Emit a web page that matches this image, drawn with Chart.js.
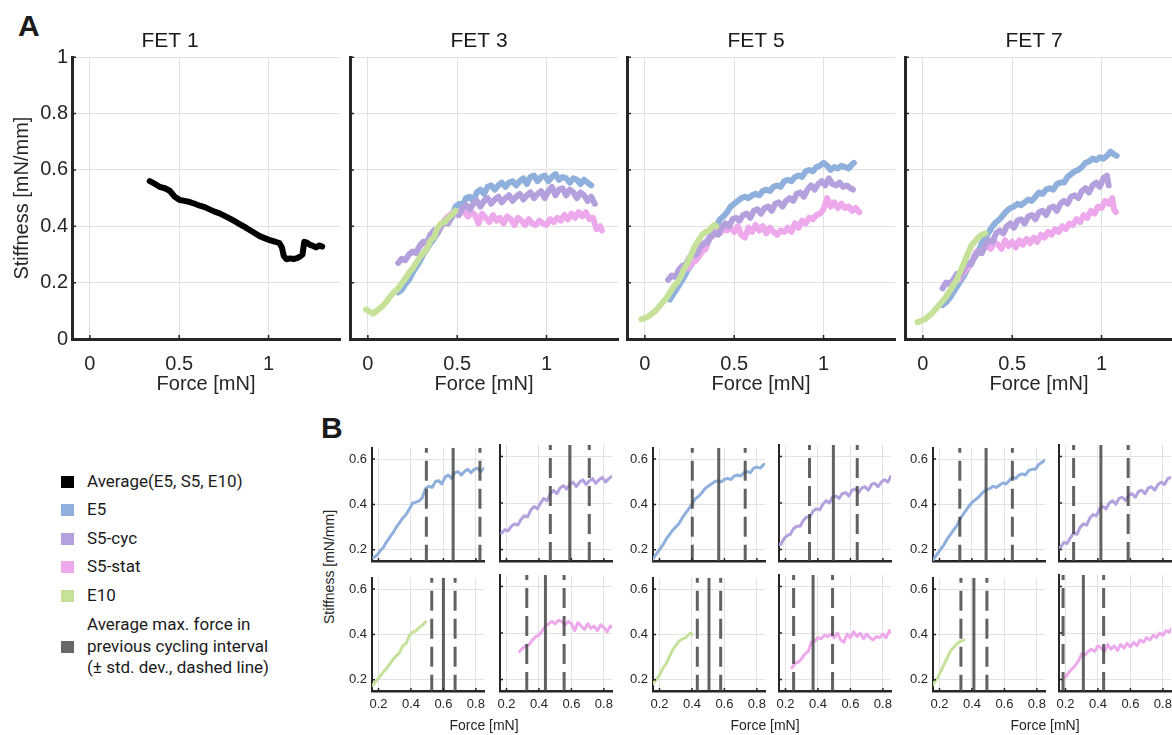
<!DOCTYPE html>
<html>
<head>
<meta charset="utf-8">
<script src="https://cdn.jsdelivr.net/npm/chart.js@4"></script>
<style>
html, body { margin: 0; padding: 0; background: #fff; overflow: hidden; width: 1172px; height: 735px; }
canvas { position: absolute; }
.t { position: absolute; white-space: nowrap; color: #1a1a1a; font-family: 'Liberation Sans', Arial, sans-serif; }
.lg { position: absolute; white-space: nowrap; color: #1a1a1a; font-family: Roboto, 'Noto Sans', sans-serif; font-size: 17px; line-height: 21.7px; }
.sq { position: absolute; width: 13px; height: 12px; }
</style>
</head>
<body>
<div class="t" style="left:18px;top:11px;font-weight:bold;font-size:30px;line-height:30px">A</div>
<div class="t" style="left:321px;top:413px;font-weight:bold;font-size:30px;line-height:30px">B</div>
<script>
// tick labels and axis ranges
var aForceTicks = [0, 0.5, 1];
var aStiffTicks = [0, 0.2, 0.4, 0.6, 0.8, 1];
var bForceTicks = [0.2, 0.4, 0.6, 0.8];
var bStiffTicks = [0.2, 0.4, 0.6];
var aRangeX = [-0.1, 1.4], aRangeY = [0, 1];
var bRangeX = [0.16, 0.85], bRangeY = [0.15, 0.65];

var fetTitles = ['FET 1', 'FET 3', 'FET 5', 'FET 7'];
var legendLabels = ['Average(E5, S5, E10)', 'E5', 'S5-cyc', 'S5-stat', 'E10',
  'Average max. force in<br>previous cycling interval<br>(± std. dev., dashed line)'];

// [force, stiffness]
var fet1Average = [[0.335,0.56],[0.36,0.552],[0.39,0.54],[0.42,0.535],[0.447,0.526],[0.475,0.505],[0.503,0.493],[0.53,0.49],[0.559,0.486],[0.587,0.48],[0.615,0.473],[0.643,0.468],[0.67,0.46],[0.698,0.452],[0.726,0.446],[0.754,0.437],[0.782,0.428],[0.81,0.418],[0.838,0.408],[0.866,0.398],[0.894,0.387],[0.922,0.376],[0.95,0.365],[0.978,0.358],[1.006,0.351],[1.034,0.346],[1.061,0.34],[1.075,0.325],[1.085,0.295],[1.1,0.283],[1.12,0.286],[1.14,0.284],[1.16,0.287],[1.175,0.292],[1.19,0.3],[1.2,0.345],[1.215,0.342],[1.23,0.335],[1.25,0.33],[1.266,0.325],[1.285,0.332],[1.3,0.328]];

var fet3E5 = [[0.17,0.165],[0.19,0.175],[0.21,0.195],[0.23,0.21],[0.25,0.235],[0.27,0.255],[0.29,0.275],[0.31,0.3],[0.33,0.32],[0.35,0.34],[0.37,0.355],[0.39,0.38],[0.41,0.405],[0.43,0.41],[0.45,0.415],[0.47,0.43],[0.49,0.47],[0.51,0.48],[0.53,0.475],[0.55,0.5],[0.57,0.505],[0.59,0.49],[0.61,0.52],[0.63,0.53],[0.65,0.515],[0.67,0.54],[0.69,0.545],[0.71,0.53],[0.73,0.545],[0.75,0.555],[0.77,0.54],[0.79,0.555],[0.81,0.56],[0.83,0.545],[0.85,0.56],[0.87,0.57],[0.89,0.55],[0.91,0.575],[0.93,0.58],[0.95,0.56],[0.97,0.575],[0.99,0.58],[1.01,0.56],[1.03,0.575],[1.05,0.585],[1.07,0.565],[1.09,0.575],[1.11,0.57],[1.13,0.555],[1.15,0.57],[1.17,0.565],[1.19,0.55],[1.21,0.565],[1.23,0.555],[1.25,0.545]];
var fet3S5cyc = [[0.17,0.27],[0.19,0.285],[0.21,0.28],[0.23,0.3],[0.25,0.31],[0.27,0.305],[0.29,0.33],[0.31,0.345],[0.33,0.34],[0.35,0.37],[0.37,0.385],[0.39,0.375],[0.41,0.4],[0.43,0.42],[0.45,0.41],[0.47,0.44],[0.49,0.455],[0.51,0.44],[0.53,0.465],[0.55,0.475],[0.57,0.46],[0.59,0.48],[0.61,0.49],[0.63,0.47],[0.65,0.49],[0.67,0.5],[0.69,0.48],[0.71,0.495],[0.73,0.505],[0.75,0.485],[0.77,0.5],[0.79,0.51],[0.81,0.49],[0.83,0.505],[0.85,0.515],[0.87,0.495],[0.89,0.51],[0.91,0.52],[0.93,0.5],[0.95,0.515],[0.97,0.525],[0.99,0.5],[1.01,0.525],[1.03,0.54],[1.05,0.51],[1.07,0.53],[1.09,0.535],[1.11,0.51],[1.13,0.53],[1.15,0.52],[1.17,0.5],[1.19,0.52],[1.21,0.51],[1.23,0.49],[1.25,0.505],[1.27,0.48]];
var fet3S5stat = [[0.28,0.32],[0.3,0.335],[0.32,0.345],[0.34,0.35],[0.36,0.37],[0.38,0.385],[0.4,0.39],[0.42,0.41],[0.44,0.43],[0.46,0.44],[0.48,0.45],[0.5,0.44],[0.52,0.455],[0.54,0.45],[0.56,0.435],[0.58,0.45],[0.6,0.44],[0.62,0.41],[0.64,0.445],[0.66,0.43],[0.68,0.415],[0.7,0.44],[0.72,0.42],[0.74,0.43],[0.76,0.41],[0.78,0.435],[0.8,0.425],[0.82,0.405],[0.84,0.43],[0.86,0.42],[0.88,0.405],[0.9,0.425],[0.92,0.41],[0.94,0.405],[0.96,0.42],[0.98,0.41],[1.0,0.405],[1.02,0.425],[1.04,0.415],[1.06,0.43],[1.08,0.42],[1.1,0.44],[1.12,0.425],[1.14,0.445],[1.16,0.43],[1.18,0.45],[1.2,0.435],[1.22,0.45],[1.24,0.425],[1.26,0.43],[1.28,0.39],[1.3,0.4],[1.31,0.385]];
var fet3E10 = [[-0.01,0.105],[0.01,0.097],[0.03,0.09],[0.05,0.1],[0.07,0.11],[0.09,0.122],[0.11,0.138],[0.13,0.155],[0.15,0.168],[0.17,0.18],[0.19,0.198],[0.21,0.215],[0.23,0.235],[0.25,0.25],[0.27,0.27],[0.29,0.29],[0.31,0.305],[0.33,0.32],[0.35,0.35],[0.37,0.36],[0.39,0.395],[0.41,0.41],[0.43,0.415],[0.45,0.43],[0.47,0.44],[0.49,0.455]];

var fet5E5 = [[0.14,0.14],[0.16,0.16],[0.18,0.18],[0.2,0.2],[0.22,0.22],[0.24,0.245],[0.26,0.265],[0.28,0.285],[0.3,0.3],[0.32,0.315],[0.34,0.34],[0.36,0.36],[0.38,0.38],[0.4,0.4],[0.42,0.425],[0.44,0.435],[0.46,0.45],[0.48,0.47],[0.5,0.48],[0.52,0.49],[0.54,0.5],[0.56,0.505],[0.58,0.5],[0.6,0.51],[0.62,0.515],[0.64,0.51],[0.66,0.525],[0.68,0.53],[0.7,0.525],[0.72,0.54],[0.74,0.545],[0.76,0.54],[0.78,0.56],[0.8,0.565],[0.82,0.56],[0.84,0.575],[0.86,0.58],[0.88,0.575],[0.9,0.595],[0.92,0.6],[0.94,0.595],[0.96,0.61],[0.98,0.615],[1.0,0.625],[1.02,0.615],[1.04,0.6],[1.06,0.61],[1.08,0.605],[1.1,0.615],[1.12,0.61],[1.14,0.605],[1.16,0.62],[1.17,0.625]];
var fet5S5cyc = [[0.13,0.21],[0.15,0.225],[0.17,0.22],[0.19,0.245],[0.21,0.26],[0.23,0.265],[0.25,0.29],[0.27,0.3],[0.29,0.3],[0.31,0.325],[0.33,0.34],[0.35,0.34],[0.37,0.365],[0.39,0.375],[0.41,0.37],[0.43,0.395],[0.45,0.41],[0.47,0.4],[0.49,0.425],[0.51,0.43],[0.53,0.42],[0.55,0.44],[0.57,0.445],[0.59,0.43],[0.61,0.455],[0.63,0.46],[0.65,0.445],[0.67,0.465],[0.69,0.47],[0.71,0.455],[0.73,0.48],[0.75,0.485],[0.77,0.47],[0.79,0.49],[0.81,0.5],[0.83,0.49],[0.85,0.515],[0.87,0.52],[0.89,0.505],[0.91,0.53],[0.93,0.545],[0.95,0.53],[0.97,0.55],[0.99,0.56],[1.01,0.545],[1.03,0.57],[1.05,0.55],[1.07,0.545],[1.09,0.555],[1.11,0.54],[1.13,0.545],[1.15,0.535],[1.165,0.53]];
var fet5S5stat = [[0.24,0.25],[0.26,0.27],[0.28,0.275],[0.3,0.29],[0.32,0.31],[0.34,0.32],[0.36,0.36],[0.38,0.365],[0.4,0.38],[0.42,0.375],[0.44,0.39],[0.46,0.385],[0.48,0.395],[0.5,0.38],[0.52,0.4],[0.54,0.37],[0.56,0.36],[0.58,0.395],[0.6,0.38],[0.62,0.405],[0.64,0.385],[0.66,0.4],[0.68,0.375],[0.7,0.395],[0.72,0.38],[0.74,0.37],[0.76,0.385],[0.78,0.38],[0.8,0.395],[0.82,0.38],[0.84,0.41],[0.86,0.395],[0.88,0.42],[0.9,0.41],[0.92,0.43],[0.94,0.425],[0.96,0.44],[0.98,0.445],[1.0,0.46],[1.02,0.5],[1.04,0.47],[1.06,0.485],[1.08,0.465],[1.1,0.48],[1.12,0.465],[1.14,0.47],[1.16,0.455],[1.18,0.465],[1.2,0.45]];
var fet5E10 = [[-0.02,0.07],[0.0,0.075],[0.02,0.08],[0.04,0.09],[0.06,0.1],[0.08,0.115],[0.1,0.13],[0.12,0.145],[0.14,0.165],[0.16,0.185],[0.18,0.2],[0.2,0.22],[0.22,0.25],[0.24,0.27],[0.26,0.3],[0.28,0.33],[0.3,0.35],[0.32,0.37],[0.34,0.38],[0.36,0.385],[0.38,0.4],[0.39,0.405],[0.4,0.4]];

var fet7E5 = [[0.11,0.12],[0.13,0.13],[0.15,0.145],[0.17,0.165],[0.19,0.185],[0.21,0.205],[0.23,0.225],[0.25,0.25],[0.27,0.27],[0.29,0.29],[0.31,0.31],[0.33,0.34],[0.35,0.36],[0.37,0.38],[0.39,0.4],[0.41,0.415],[0.43,0.425],[0.45,0.44],[0.47,0.455],[0.49,0.465],[0.51,0.47],[0.53,0.48],[0.55,0.475],[0.57,0.485],[0.59,0.495],[0.61,0.49],[0.63,0.505],[0.65,0.52],[0.67,0.515],[0.69,0.53],[0.71,0.535],[0.73,0.53],[0.75,0.55],[0.77,0.555],[0.79,0.555],[0.81,0.575],[0.83,0.585],[0.85,0.595],[0.87,0.6],[0.89,0.61],[0.91,0.625],[0.93,0.63],[0.95,0.64],[0.97,0.635],[0.99,0.645],[1.01,0.64],[1.03,0.65],[1.05,0.665],[1.07,0.655],[1.085,0.65]];
var fet7S5cyc = [[0.11,0.18],[0.13,0.2],[0.15,0.195],[0.17,0.21],[0.19,0.23],[0.21,0.225],[0.23,0.25],[0.25,0.27],[0.27,0.265],[0.29,0.295],[0.31,0.31],[0.33,0.305],[0.35,0.335],[0.37,0.35],[0.39,0.345],[0.41,0.375],[0.43,0.385],[0.45,0.375],[0.47,0.4],[0.49,0.41],[0.51,0.395],[0.53,0.42],[0.55,0.425],[0.57,0.41],[0.59,0.435],[0.61,0.44],[0.63,0.425],[0.65,0.45],[0.67,0.455],[0.69,0.44],[0.71,0.465],[0.73,0.47],[0.75,0.455],[0.77,0.48],[0.79,0.49],[0.81,0.48],[0.83,0.505],[0.85,0.51],[0.87,0.5],[0.89,0.525],[0.91,0.535],[0.93,0.52],[0.95,0.545],[0.97,0.555],[0.99,0.54],[1.01,0.57],[1.03,0.58],[1.04,0.545]];
var fet7S5stat = [[0.2,0.21],[0.22,0.23],[0.24,0.245],[0.26,0.26],[0.28,0.28],[0.3,0.31],[0.32,0.305],[0.34,0.32],[0.36,0.33],[0.38,0.32],[0.4,0.345],[0.42,0.335],[0.44,0.32],[0.46,0.35],[0.48,0.33],[0.5,0.345],[0.52,0.325],[0.54,0.35],[0.56,0.335],[0.58,0.355],[0.6,0.34],[0.62,0.36],[0.64,0.345],[0.66,0.37],[0.68,0.36],[0.7,0.38],[0.72,0.37],[0.74,0.39],[0.76,0.38],[0.78,0.4],[0.8,0.39],[0.82,0.41],[0.84,0.405],[0.86,0.425],[0.88,0.415],[0.9,0.44],[0.92,0.43],[0.94,0.455],[0.96,0.445],[0.98,0.47],[1.0,0.465],[1.02,0.49],[1.04,0.48],[1.06,0.5],[1.07,0.46],[1.08,0.45]];
var fet7E10 = [[-0.03,0.06],[-0.01,0.065],[0.01,0.07],[0.03,0.08],[0.05,0.09],[0.07,0.105],[0.09,0.12],[0.11,0.135],[0.13,0.15],[0.15,0.17],[0.17,0.19],[0.19,0.21],[0.21,0.24],[0.23,0.27],[0.25,0.3],[0.27,0.33],[0.29,0.345],[0.31,0.36],[0.33,0.37],[0.35,0.375]];

// average max. force of previous interval, order E5, S5-cyc, E10, S5-stat
var fet3MaxMean = [0.66, 0.59, 0.60, 0.44];
var fet3MaxSd = [0.165, 0.12, 0.072, 0.115];
var fet5MaxMean = [0.565, 0.495, 0.505, 0.37];
var fet5MaxSd = [0.163, 0.147, 0.072, 0.12];
var fet7MaxMean = [0.487, 0.418, 0.412, 0.31];
var fet7MaxSd = [0.162, 0.168, 0.08, 0.125];

var colE5 = '#8fb0dc', colS5cyc = '#b4a0dc', colS5stat = '#eea8ec', colE10 = '#c6e29a';
var colAvg = '#000000', colMax = '#666666';
var FONT = "'Liberation Sans', Arial, sans-serif";

// MATLAB-like inward tick marks
var inTicks = {
  id: 'inTicks',
  afterDatasetsDraw: function (chart, args, o) {
    var ctx = chart.ctx, a = chart.chartArea, x = chart.scales.x, y = chart.scales.y;
    ctx.save();
    ctx.strokeStyle = '#262626';
    ctx.lineWidth = o.w;
    ctx.beginPath();
    x.ticks.forEach(function (t) {
      var px = x.getPixelForValue(t.value);
      ctx.moveTo(px, a.bottom); ctx.lineTo(px, a.bottom - o.len);
    });
    y.ticks.forEach(function (t) {
      var py = y.getPixelForValue(t.value);
      ctx.moveTo(a.left, py); ctx.lineTo(a.left + o.len, py);
    });
    ctx.stroke();
    ctx.restore();
  }
};

function axis(range, ticks, show, fontSize, pad, border, size, title) {
  return {
    type: 'linear', min: range[0], max: range[1],
    afterBuildTicks: function (s) { s.ticks = ticks.map(function (v) { return { value: v }; }); },
    afterFit: function (s) { if (s.isHorizontal()) s.height = size; else s.width = size; },
    grid: { color: '#e2e2e2', lineWidth: 1, drawTicks: false },
    border: { display: true, color: '#262626', width: border },
    ticks: { display: show, padding: pad, color: '#262626', font: { family: FONT, size: fontSize },
      callback: function (v) { return String(v); } },
    title: title || { display: false }
  };
}

function series(pts, color, width) {
  return {
    data: pts.map(function (p) { return { x: p[0], y: p[1] }; }),
    showLine: true, borderColor: color, borderWidth: width, pointRadius: 0,
    borderJoinStyle: 'round', borderCapStyle: 'round', fill: false
  };
}

function vline(v, dashed) {
  return {
    data: [{ x: v, y: bRangeY[1] }, { x: v, y: bRangeY[0] }],
    showLine: true, borderColor: 'rgba(70,70,70,0.85)', borderWidth: 3, pointRadius: 0,
    borderDash: dashed ? [20, 8] : [], borderDashOffset: dashed ? 15 : 0
  };
}

function makeChart(left, top, w, h, datasets, xs, ys, pad, titleOpt, tickLen) {
  var cv = document.createElement('canvas');
  cv.width = w; cv.height = h;
  cv.style.left = left + 'px'; cv.style.top = top + 'px';
  cv.style.width = w + 'px'; cv.style.height = h + 'px';
  document.body.appendChild(cv);
  new Chart(cv, {
    type: 'scatter',
    data: { datasets: datasets },
    options: {
      responsive: false, animation: false, events: [],
      layout: { padding: pad },
      scales: { x: xs, y: ys },
      plugins: { legend: { display: false }, tooltip: { enabled: false }, title: titleOpt,
        inTicks: { len: tickLen, w: 1.5 } }
    },
    plugins: [inTicks]
  });
}

// ---------- panel A ----------
var aLeft = [72, 350, 627, 905];
var aSeries = [
  [series(fet1Average, colAvg, 6)],
  [series(fet3E10, colE10, 6), series(fet3S5cyc, colS5cyc, 6), series(fet3S5stat, colS5stat, 6), series(fet3E5, colE5, 6)],
  [series(fet5E10, colE10, 6), series(fet5S5cyc, colS5cyc, 6), series(fet5S5stat, colS5stat, 6), series(fet5E5, colE5, 6)],
  [series(fet7E10, colE10, 6), series(fet7S5cyc, colS5cyc, 6), series(fet7S5stat, colS5stat, 6), series(fet7E5, colE5, 6)]
];
for (var i = 0; i < 4; i++) {
  var yw = i === 0 ? 72 : 10;
  var xTitle = { display: true, text: 'Force [mN]', color: '#262626', font: { family: FONT, size: 20 }, padding: { top: 0, bottom: 4 } };
  var yTitle = i === 0 ? { display: true, text: 'Stiffness [mN/mm]', color: '#262626', font: { family: FONT, size: 20 }, padding: { top: 10, bottom: 0 } } : null;
  makeChart(aLeft[i] - yw, 0, yw + 268 + 6, 400, aSeries[i],
    axis(aRangeX, aForceTicks, true, 20, 13, 3, 61, xTitle),
    axis(aRangeY, aStiffTicks, i === 0, 20, 4, 3, yw, yTitle),
    { top: 0, right: 6, bottom: 0, left: 0 },
    { display: true, text: fetTitles[i], color: '#1a1a1a', font: { family: FONT, size: 21, weight: 'normal' }, padding: { top: 29, bottom: 3 } },
    4);
}

// ---------- panel B ----------
var bLeft = [[372, 500], [653, 779], [933, 1059]];
var bTop = [445, 575];
var bCurves = [
  [fet3E5, fet3S5cyc, fet3E10, fet3S5stat],
  [fet5E5, fet5S5cyc, fet5E10, fet5S5stat],
  [fet7E5, fet7S5cyc, fet7E10, fet7S5stat]
];
var bColors = [colE5, colS5cyc, colE10, colS5stat];
var bMean = [fet3MaxMean, fet5MaxMean, fet7MaxMean];
var bSd = [fet3MaxSd, fet5MaxSd, fet7MaxSd];
for (var g = 0; g < 3; g++) {
  for (var k = 0; k < 4; k++) {
    var row = k < 2 ? 0 : 1, col = k % 2;
    var m = bMean[g][k], sd = bSd[g][k];
    var ds = [vline(m - sd, true), vline(m, false), vline(m + sd, true), series(bCurves[g][k], bColors[k], 3)];
    makeChart(bLeft[g][col] - 30, bTop[row] - 10, 152, 151, ds,
      axis(bRangeX, bForceTicks, row === 1, 13, 6, 2.5, 25),
      axis(bRangeY, bStiffTicks, col === 0, 13, 5, 2, 30),
      { top: 10, right: 10, bottom: 0, left: 0 },
      { display: false },
      3);
  }
}

function addText(html, x, y, size, rotate) {
  var d = document.createElement('div');
  d.className = 't';
  d.innerHTML = html;
  d.style.fontSize = size + 'px';
  d.style.color = '#262626';
  d.style.left = x + 'px'; d.style.top = y + 'px';
  d.style.transform = 'translate(-50%,-50%)' + (rotate ? ' rotate(-90deg)' : '');
  document.body.appendChild(d);
}
addText('Stiffness [mN/mm]', 329, 567, 14, true);
[484, 765, 1045].forEach(function (cx) { addText('Force [mN]', cx, 725, 14, false); });

// ---------- legend ----------
var legendColors = [colAvg, colE5, colS5cyc, colS5stat, colE10, colMax];
var legendY = [481.7, 510, 538.5, 567, 595.5, 646.5];
var legendLines = [1, 1, 1, 1, 1, 3];
for (var j = 0; j < legendLabels.length; j++) {
  var sq = document.createElement('div');
  sq.className = 'sq';
  sq.style.background = legendColors[j];
  sq.style.left = '61px'; sq.style.top = (legendY[j] - 6) + 'px';
  document.body.appendChild(sq);
  var tx = document.createElement('div');
  tx.className = 'lg';
  tx.innerHTML = legendLabels[j];
  tx.style.left = '87px'; tx.style.top = (legendY[j] - legendLines[j] * 21.7 / 2) + 'px';
  document.body.appendChild(tx);
}
</script>
</body>
</html>
